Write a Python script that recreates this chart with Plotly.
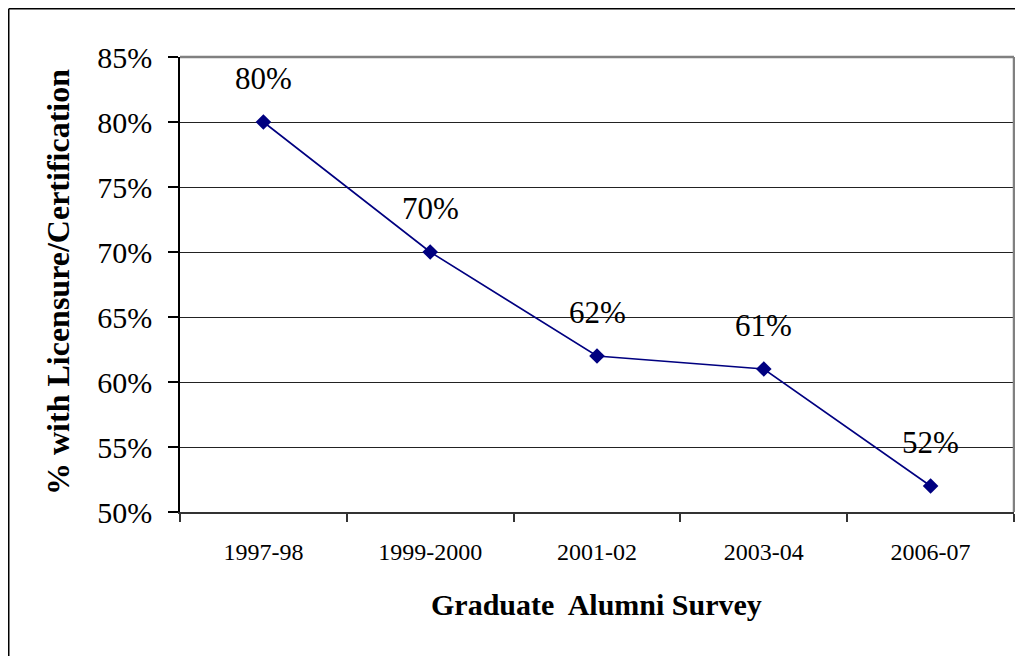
import plotly.graph_objects as go

categories = ["1997-98", "1999-2000", "2001-02", "2003-04", "2006-07"]
values = [0.80, 0.70, 0.62, 0.61, 0.52]
labels = ["80%", "70%", "62%", "61%", "52%"]
y_ticks = [0.50, 0.55, 0.60, 0.65, 0.70, 0.75, 0.80, 0.85]

FONT = "Liberation Serif, Times New Roman, serif"
NAVY = "#000080"

OFF = 8  # page body margin
W, H = 1023 - OFF, 656 - OFF
L, T = 180 - OFF, 57 - OFF
R = W - (1014 - OFF)
B = H - (512 - OFF)
pw, ph = W - L - R, H - T - B

def px_x(p):  # screen pixel -> paper x
    return (p - OFF - L) / pw

def px_y(p):  # screen pixel -> paper y
    return (H - B - (p - OFF)) / ph

fig = go.Figure()
fig.add_trace(go.Scatter(
    x=categories, y=values, mode="lines+markers",
    line=dict(color=NAVY, width=1.6),
    marker=dict(symbol="diamond", size=12, color=NAVY),
    hoverinfo="skip", showlegend=False,
))

annotations = []
for c, v, t in zip(categories, values, labels):
    annotations.append(dict(
        x=c, y=v, xref="x", yref="y", text=t, showarrow=False,
        yshift=44, font=dict(family=FONT, size=31, color="black"),
    ))

annotations.append(dict(
    x=px_x(58), y=px_y(497), xref="paper", yref="paper",
    text="<b>% with Licensure/Certification</b>", textangle=-90,
    showarrow=False, xanchor="center", yanchor="bottom",
    font=dict(family=FONT, size=32, color="black"),
))
annotations.append(dict(
    x=px_x(596), y=px_y(604), xref="paper", yref="paper",
    text="<b>Graduate  Alumni Survey</b>", showarrow=False,
    xanchor="center", yanchor="middle",
    font=dict(family=FONT, size=30, color="black"),
))

shapes = [
    # plot area top and right border (gray)
    dict(type="line", xref="paper", yref="paper", x0=0, x1=1, y0=1, y1=1,
         line=dict(color="#808080", width=2.5)),
    dict(type="line", xref="paper", yref="paper", x0=1, x1=1, y0=0, y1=1,
         line=dict(color="#808080", width=2.5)),
    # outer chart border (left and top)
    dict(type="line", xref="paper", yref="paper", x0=px_x(8.75), x1=px_x(8.75),
         y0=px_y(8.75), y1=px_y(700), line=dict(color="black", width=1.5)),
    dict(type="line", xref="paper", yref="paper", x0=px_x(8.75), x1=px_x(1100),
         y0=px_y(8.75), y1=px_y(8.75), line=dict(color="black", width=1.5)),
]

fig.update_layout(
    width=W, height=H,
    margin=dict(l=L, r=R, t=T, b=B, pad=0),
    paper_bgcolor="white", plot_bgcolor="white",
    font=dict(family=FONT, color="black"),
    annotations=annotations, shapes=shapes,
    xaxis=dict(
        type="category", range=[-0.5, 4.5], tickson="boundaries",
        ticks="outside", ticklen=8, tickcolor="#333", tickwidth=1.5,
        showline=True, linecolor="#333", linewidth=1.5,
        showgrid=False, zeroline=False,
        tickfont=dict(family=FONT, size=24, color="black"),
        ticklabelstandoff=17,
    ),
    yaxis=dict(
        range=[0.50, 0.85], tickvals=y_ticks, tickformat=".0%",
        ticks="outside", ticklen=10, tickcolor="black", tickwidth=1.5,
        showline=True, linecolor="black", linewidth=1.5,
        showgrid=True, gridcolor="#222", gridwidth=1, zeroline=False,
        tickfont=dict(family=FONT, size=30, color="black"),
        ticklabelstandoff=10,
    ),
)

fig.write_html("out.html")
